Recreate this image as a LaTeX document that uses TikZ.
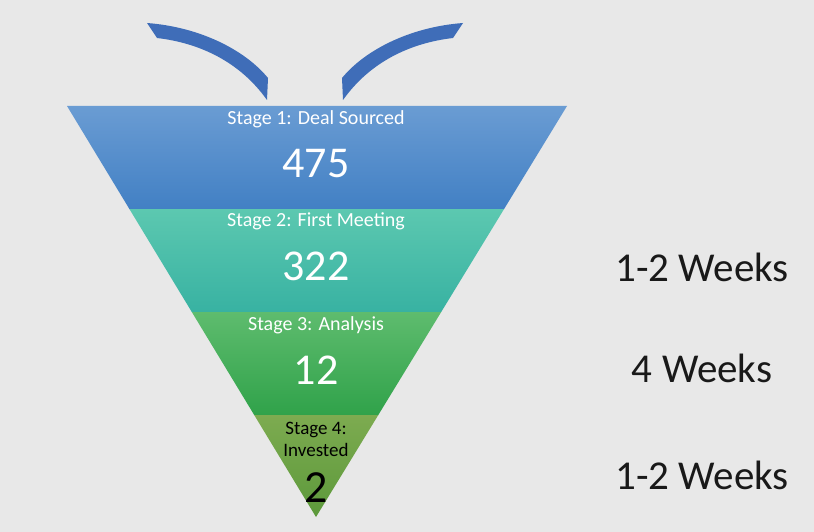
\documentclass[tikz,border=0pt]{standalone}
\usepackage{fontspec}
\setmainfont{Carlito}
\definecolor{bg}{HTML}{E8E8E8}
\definecolor{sAtop}{HTML}{6A9CD3}
\definecolor{sAbot}{HTML}{4280C4}
\definecolor{sBtop}{HTML}{5CC8B0}
\definecolor{sBbot}{HTML}{38B2A2}
\definecolor{sCtop}{HTML}{5EBC6E}
\definecolor{sCbot}{HTML}{30A24A}
\definecolor{sDtop}{HTML}{7DAB50}
\definecolor{sDbot}{HTML}{5C993B}
\definecolor{arrowblue}{HTML}{3F6DB8}
\tikzset{
  stagelbl/.style={font=\fontsize{20}{23}\selectfont, text=white, inner sep=0pt},
  bignum/.style={font=\fontsize{44}{48}\selectfont, text=white, inner sep=0pt},
  weeklbl/.style={font=\fontsize{41}{44}\selectfont, text=black!90, inner sep=0pt},
}
\begin{document}
\begin{tikzpicture}[x=1pt,y=-1pt]
\useasboundingbox (0,0) rectangle (814,532);
\fill[bg] (0,0) rectangle (814,532);
% bands
\shade[top color=sAtop, bottom color=sAbot] (67,106) -- (567,106) -- (504.1,209) -- (129.4,209) -- cycle;
\shade[top color=sBtop, bottom color=sBbot] (129.4,209) -- (504.1,209) -- (441.2,312) -- (191.8,312) -- cycle;
\shade[top color=sCtop, bottom color=sCbot] (191.8,312) -- (441.2,312) -- (378.3,415) -- (254.2,415) -- cycle;
\shade[top color=sDtop, bottom color=sDbot] (254.2,415) -- (378.3,415) -- (316,517) -- cycle;
% curved arrows
\fill[arrowblue] (147,23) .. controls (200,27) and (245,50) .. (268,78) -- (267,100)
  .. controls (240,62) and (200,43) .. (157,38) -- cycle;
\fill[arrowblue] (463,23) .. controls (410,27) and (365,50) .. (342,78) -- (343,100)
  .. controls (370,62) and (410,43) .. (453,38) -- cycle;
% labels
\node[stagelbl] (s1) at (316,119) {Stage 1: Deal Sourced};
\node[bignum] (n1) at (316,164) {475};
\node[stagelbl] (s2) at (316,221) {Stage 2: First Meeting};
\node[bignum] (n2) at (316,266) {322};
\node[stagelbl] (s3) at (316,325) {Stage 3: Analysis};
\node[bignum] (n3) at (316,370) {12};
\node[stagelbl, text=black, font=\fontsize{19}{22}\selectfont, align=center] (s4) at (316,439) {Stage 4:\\Invested};
\node[bignum, text=black, font=\fontsize{46}{48}\selectfont] (n4) at (316,488) {2};
\node[weeklbl] (w1) at (702,267) {1-2 Weeks};
\node[weeklbl] (w2) at (702,368) {4 Weeks};
\node[weeklbl] (w3) at (702,475) {1-2 Weeks};
\end{tikzpicture}
\end{document}
